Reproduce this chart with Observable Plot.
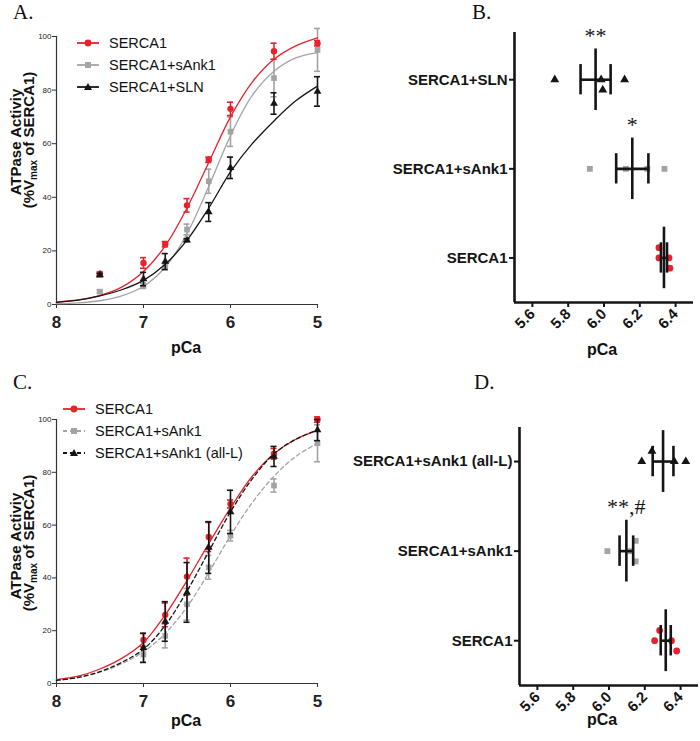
<!DOCTYPE html>
<html><head><meta charset="utf-8">
<script src="https://cdn.jsdelivr.net/npm/d3@7"></script>
<script src="https://cdn.jsdelivr.net/npm/@observablehq/plot@0.6"></script>
<style>
body{margin:0;background:#fff;}
#fig{position:relative;width:700px;height:741px;overflow:hidden;background:#fff;font-family:"Liberation Sans",Arial,sans-serif;color:#111;}
.pl{position:absolute;}
.pl svg{overflow:visible;}
.letter{position:absolute;font-family:"Liberation Serif","Times New Roman",serif;font-size:21px;line-height:21px;}
.ttl{position:absolute;font-weight:bold;font-size:16px;line-height:16px;transform:translate(-50%,-50%);white-space:nowrap;}
.yt{position:absolute;font-weight:bold;font-size:15px;line-height:15px;transform:translate(-50%,-50%) rotate(-90deg);white-space:nowrap;}
.yt sub{font-size:10px;vertical-align:-3px;}
.leg{position:absolute;font-size:14.5px;line-height:14px;}
.leg div{display:flex;align-items:center;height:22px;}
.leg svg{margin-right:10px;}
</style></head><body><div id="fig"></div>
<script>
// ---------------- data ----------------
// Panel A: ATPase activity vs pCa
const pCaA = [7.5, 7, 6.75, 6.5, 6.25, 6, 5.5, 5];
const aSerca1Mean = [11.5, 15.5, 22.5, 37, 54, 73, 94.5, 97.5];
const aSerca1Err  = [0.6, 2, 1, 2.5, 1, 2.5, 3, 1];
const aSank1Mean  = [4.8, 7, 14.5, 28, 46, 64.5, 84.5, 95];
const aSank1Err   = [0.5, 1, 1, 2, 4.5, 5.5, 7, 8];
const aSlnMean    = [11, 9.5, 16, 24, 34.5, 51, 75, 79.5];
const aSlnErr     = [0.6, 2.5, 3, 0.5, 3.5, 4, 4, 5.5];
// fitted curves
const fitPCa      = [8, 7.75, 7.5, 7.25, 7, 6.75, 6.5, 6.25, 6, 5.75, 5.5, 5.25, 5];
const aSerca1Fit  = [0.9, 1.7, 3.4, 6.5, 12.3, 21.9, 36, 53, 70, 83, 91.5, 96.5, 99.5];
const aSank1Fit   = [0.3, 0.6, 1.4, 3.2, 6.8, 13.9, 26.4, 44, 63, 78, 87, 92, 94];
const aSlnFit     = [0.8, 1.6, 3.2, 5.5, 9, 15, 24, 36, 49.5, 60, 68.5, 76, 81.5];
// Panel C
const pCaC = [7, 6.75, 6.5, 6.25, 6, 5.5, 5];
const cSerca1Mean = [16.5, 26, 40.5, 55.5, 68, 87, 100];
const cSerca1Err  = [2.5, 4.5, 7, 5.5, 1.5, 2, 1];
const cSank1Mean  = [11, 18, 30, 44, 56, 75, 91];
const cSank1Err   = [3, 4.5, 6, 4.5, 2, 2.5, 7];
const cAllLMean   = [13.5, 23.5, 34.5, 51.5, 65, 86, 96];
const cAllLErr    = [5.5, 7.5, 11.3, 9.8, 8.2, 3.8, 4];
const cSerca1Fit  = [1.5, 2.8, 5.5, 9.5, 15.5, 26, 39, 53, 66.5, 78.5, 87, 92.5, 96];
const cSank1Fit   = [1.2, 2.3, 4.3, 7.5, 12, 19, 29, 42, 56, 68.5, 78.5, 86, 91];
const cAllLFit    = [1.2, 2.3, 4.5, 8, 13, 22, 35, 50, 65, 77.5, 87, 92.5, 96];
const pCaTicks = [8, 7, 6, 5];
const activityTicks = [0, 20, 40, 60, 80, 100];
// Panel B: pCa50 per preparation (bottom to top)
const bGroups = ["SERCA1", "SERCA1+sAnk1", "SERCA1+SLN"];
const bValues = [[6.307, 6.307, 6.363, 6.368], [5.921, 6.122, 6.242, 6.338], [5.725, 5.984, 5.993, 6.115]];
const bStack  = [[-1, 0, 0, 1], [0, 0, 0, 0], [0, 0, 1, 0]];
const bMean   = [6.335, 6.158, 5.953];
const bSd     = [0.017, 0.09, 0.084];
const bNotes  = ["", "*", "**"];
// Panel D
const dGroups = ["SERCA1", "SERCA1+sAnk1", "SERCA1+sAnk1 (all-L)"];
const dValues = [[6.255, 6.283, 6.349, 6.378], [5.991, 6.121, 6.149, 6.149], [6.183, 6.24, 6.365, 6.429]];
const dStack  = [[0, -1, 0, 1], [0, 0, -1, 1], [0, -1, 0, 0]];
const dMean   = [6.317, 6.097, 6.302];
const dSd     = [0.028, 0.038, 0.058];
const dNotes  = ["", "**,#", ""];
const pCa50Ticks = [5.6, 5.8, 6.0, 6.2, 6.4];

// ---------------- styling ----------------
const RED = "#e8212b", GRAY = "#a3a3a3", BLACK = "#151515";
const FONT = "'Liberation Sans', Arial, sans-serif";
const fig = document.getElementById("fig");
function place(node, left, top){ const d = document.createElement("div"); d.className = "pl"; d.style.left = left + "px"; d.style.top = top + "px"; d.appendChild(node); fig.appendChild(d); }
function html(cls, left, top, inner){ const d = document.createElement("div"); d.className = cls; d.style.left = left + "px"; d.style.top = top + "px"; d.innerHTML = inner; fig.appendChild(d); }

function curvePanel(series, opts){
  const marks = [
    Plot.ruleX([8], {stroke: "#333", strokeWidth: 1.2}),
    Plot.ruleY([0], {stroke: "#333", strokeWidth: 1.2}),
    Plot.axisX({ticks: pCaTicks, tickFormat: d3.format("d"), tickSize: 4, tickPadding: 7, fontSize: 17, fontWeight: "bold", label: null, stroke: "#333"}),
    Plot.axisY({ticks: activityTicks, tickSize: 4, tickPadding: 1, fontSize: 8, label: null, stroke: "#333"})
  ];
  for (const s of series){
    const fit = fitPCa.map((p, i) => ({p, v: s.fit[i]}));
    const pts = s.pCa.map((p, i) => ({p, m: s.mean[i], e: s.err[i]}));
    marks.push(Plot.line(fit, {x: "p", y: "v", stroke: s.color, strokeWidth: 1.3, curve: "catmull-rom", strokeDasharray: s.dash || null}));
    marks.push(Plot.ruleX(pts, {x: "p", y1: d => d.m - d.e, y2: d => d.m + d.e, stroke: s.color, strokeWidth: 1.6}));
    marks.push(Plot.ruleY(pts, {y: d => d.m - d.e, x1: d => d.p + 0.035, x2: d => d.p - 0.035, stroke: s.color, strokeWidth: 1.6}));
    marks.push(Plot.ruleY(pts, {y: d => d.m + d.e, x1: d => d.p + 0.035, x2: d => d.p - 0.035, stroke: s.color, strokeWidth: 1.6}));
    marks.push(Plot.dot(pts, {x: "p", y: "m", symbol: s.symbol, fill: s.color, r: s.symbol === "triangle" ? 2.9 : 3.2}));
  }
  return Plot.plot({
    width: 350, height: opts.height,
    marginLeft: 56, marginRight: 33, marginTop: opts.top, marginBottom: opts.bottom,
    x: {domain: [8, 5]}, y: {domain: [0, 100]},
    style: {fontFamily: FONT, background: "transparent", overflow: "visible", maxWidth: "none", color: "#222"},
    marks
  });
}

function scatterPanel(p){
  const symbols = ["circle", "square", "triangle"];
  const colors = [RED, GRAY, BLACK];
  const marks = [];
  p.values.forEach((vals, g) => {
    const pts = vals.map((v, k) => ({v, y: g - p.stack[g][k] * 0.115}));
    marks.push(Plot.dot(pts, {x: "v", y: "y", symbol: symbols[g], fill: colors[g], r: symbols[g] === "circle" ? 3.4 : 3.3}));
  });
  const sum = p.mean.map((m, g) => ({g, m, sd: p.sd[g], note: p.notes[g]}));
  marks.push(
    Plot.ruleY(sum, {y: "g", x1: d => d.m - d.sd, x2: d => d.m + d.sd, stroke: BLACK, strokeWidth: 2.6}),
    Plot.ruleX(sum, {x: d => d.m - d.sd, y1: d => d.g - 0.17, y2: d => d.g + 0.17, stroke: BLACK, strokeWidth: 2.6}),
    Plot.ruleX(sum, {x: d => d.m + d.sd, y1: d => d.g - 0.17, y2: d => d.g + 0.17, stroke: BLACK, strokeWidth: 2.6}),
    Plot.ruleX(sum, {x: "m", y1: d => d.g - 0.345, y2: d => d.g + 0.345, stroke: BLACK, strokeWidth: 2.6}),
    Plot.text(sum, {x: "m", y: d => d.g + 0.345, text: "note", dy: -6, lineAnchor: "bottom", fontSize: 22, fontFamily: "'Liberation Serif', 'Times New Roman', serif", fill: BLACK}),
    Plot.ruleX([5.5], {stroke: BLACK, strokeWidth: 2.6}),
    Plot.ruleY([-0.5], {stroke: BLACK, strokeWidth: 2.6}),
    Plot.axisX({ticks: pCa50Ticks, tickFormat: d3.format(".1f"), tickRotate: -45, tickSize: 5, tickPadding: 4, fontSize: 15, fontWeight: "bold", label: null, strokeWidth: 2}),
    Plot.axisY({ticks: [0, 1, 2], tickFormat: i => p.groups[i], tickSize: 5, tickPadding: 2, fontSize: 15, fontWeight: "bold", label: null, strokeWidth: 2})
  );
  return Plot.plot({
    width: p.width, height: p.height,
    marginLeft: p.ml, marginRight: p.mr, marginTop: p.mt, marginBottom: p.mb,
    x: {domain: [5.5, 6.5]}, y: {domain: p.ydomain},
    style: {fontFamily: FONT, background: "transparent", overflow: "visible", maxWidth: "none", color: BLACK},
    marks
  });
}

// Panel A
place(curvePanel([
  {pCa: pCaA, mean: aSank1Mean, err: aSank1Err, fit: aSank1Fit, color: GRAY, symbol: "square"},
  {pCa: pCaA, mean: aSerca1Mean, err: aSerca1Err, fit: aSerca1Fit, color: RED, symbol: "circle"},
  {pCa: pCaA, mean: aSlnMean, err: aSlnErr, fit: aSlnFit, color: BLACK, symbol: "triangle"}
], {height: 340, top: 36, bottom: 36}), 0, 0);

// Panel C
place(curvePanel([
  {pCa: pCaC, mean: cSank1Mean, err: cSank1Err, fit: cSank1Fit, color: GRAY, symbol: "square", dash: "4,3"},
  {pCa: pCaC, mean: cSerca1Mean, err: cSerca1Err, fit: cSerca1Fit, color: RED, symbol: "circle"},
  {pCa: pCaC, mean: cAllLMean, err: cAllLErr, fit: cAllLFit, color: BLACK, symbol: "triangle", dash: "4,3"}
], {height: 380, top: 79, bottom: 37}), 0, 340);

// Panel B
place(scatterPanel({values: bValues, stack: bStack, mean: bMean, sd: bSd, notes: bNotes, groups: bGroups,
  width: 400, height: 340, ml: 214, mr: 7, mt: 32, mb: 38, ydomain: [-0.5, 2.53]}), 300, 0);
// Panel D
place(scatterPanel({values: dValues, stack: dStack, mean: dMean, sd: dSd, notes: dNotes, groups: dGroups,
  width: 410, height: 401, ml: 229, mr: 2, mt: 87, mb: 56, ydomain: [-0.5, 2.38]}), 290, 340);

// letters & titles
html("letter", 13, 2, "A.");
html("letter", 472, 2, "B.");
html("letter", 13, 372, "C.");
html("letter", 474, 372, "D.");
html("ttl", 186, 348, "pCa");
html("ttl", 602, 350, "pCa");
html("ttl", 186, 721, "pCa");
html("ttl", 602, 720, "pCa");
html("yt", 15, 142, "ATPase Activiy");
html("yt", 31, 140, "(%V<sub>max</sub> of SERCA1)");
html("yt", 15, 546, "ATPase Activiy");
html("yt", 31, 543, "(%V<sub>max</sub> of SERCA1)");

// legends
function icon(color, sym, dash){
  const m = sym === "circle" ? `<circle cx="11" cy="6" r="3.4" fill="${color}"/>`
    : sym === "square" ? `<rect x="8" y="3" width="6" height="6" fill="${color}"/>`
    : `<path d="M11,2 L15,9 L7,9 Z" fill="${color}"/>`;
  return `<svg width="22" height="12"><line x1="0" y1="6" x2="22" y2="6" stroke="${color}" stroke-width="1.8" ${dash ? `stroke-dasharray="${dash}"` : ""}/>${m}</svg>`;
}
html("leg", 77, 32, `<div>${icon(RED, "circle")}SERCA1</div><div>${icon(GRAY, "square")}SERCA1+sAnk1</div><div>${icon(BLACK, "triangle")}SERCA1+SLN</div>`);
html("leg", 63, 398, `<div>${icon(RED, "circle")}SERCA1</div><div>${icon(GRAY, "square", "4,3")}SERCA1+sAnk1</div><div>${icon(BLACK, "triangle", "4,3")}SERCA1+sAnk1 (all-L)</div>`);
</script></body></html>
